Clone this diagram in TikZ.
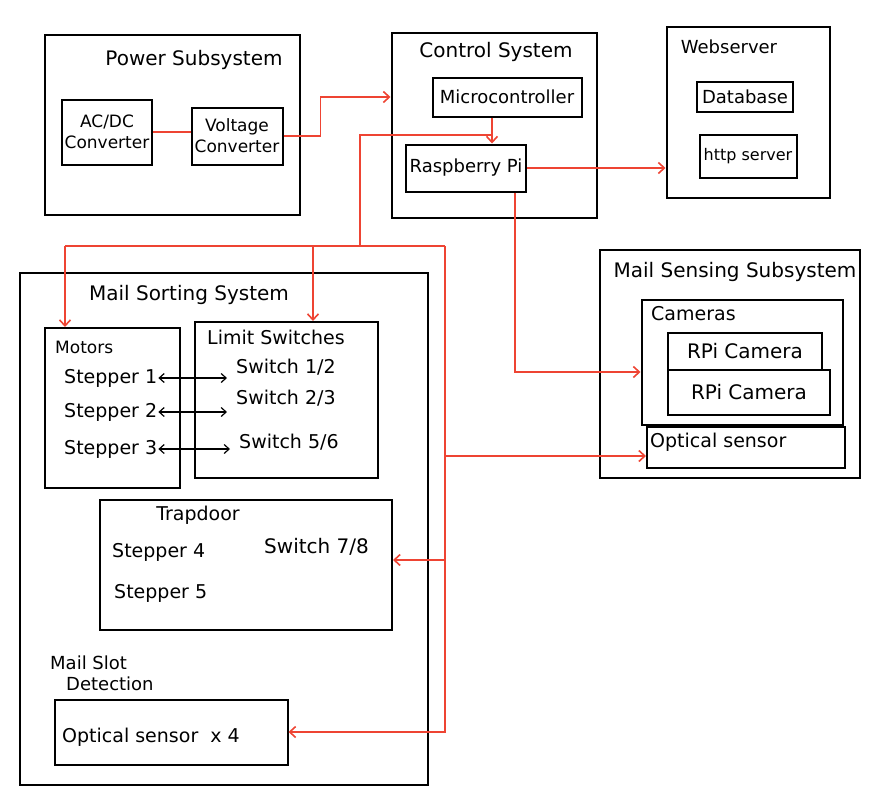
\documentclass[tikz,border=0pt]{standalone}
\usepackage{fontspec}
\setmainfont{DejaVu Sans}
\usetikzlibrary{arrows.meta}
\definecolor{wirered}{HTML}{EE4433}

\begin{document}
\begin{tikzpicture}[x=1pt, y=-1pt,
    box/.style={draw, line width=2pt, inner sep=0pt},
    txt/.style={font=\fontsize{19}{22}\selectfont, inner sep=1pt},
    small/.style={font=\fontsize{17}{21}\selectfont},
    titletext/.style={font=\fontsize{20}{22}\selectfont},
    wire/.style={draw=wirered, line width=1.6pt},
    toarrow/.style={-{Straight Barb[length=6pt, width=11pt]}},
    bothways/.style={{Straight Barb[length=5pt, width=9pt]}-{Straight Barb[length=5pt, width=9pt]}, line width=1.2pt, shorten >=8pt}]
    \useasboundingbox (0,0) rectangle (886,806);

    % power subsystem
    \node[box, minimum width=255, minimum height=180] (power) at (172,125) {};
    \node[titletext] (powertitle) at (194,60) {Power Subsystem};
    \node[box, minimum width=90, minimum height=65, txt, small, align=center] (acdc) at (107,132) {AC/DC\\Converter};
    \node[box, minimum width=91, minimum height=57, txt, small, align=center] (volt) at (237,136) {Voltage\\Converter};

    % control system
    \node[box, minimum width=205, minimum height=185] (ctrl) at (494,125) {};
    \node[titletext] (ctrltitle) at (496,52) {Control System};
    \node[box, minimum width=149, minimum height=39, txt, font=\fontsize{18}{21}\selectfont] (micro) at (507,97) {Microcontroller};
    \node[box, minimum width=120, minimum height=47, txt, font=\fontsize{18}{21}\selectfont] (rpi) at (466,168) {Raspberry Pi};

    % webserver
    \node[box, minimum width=163, minimum height=171] (web) at (748,112) {};
    \node[titletext, font=\fontsize{18}{21}\selectfont] (webtitle) at (729,47) {Webserver};
    \node[box, minimum width=96, minimum height=30, txt, font=\fontsize{18}{21}\selectfont] (db) at (745,97) {Database};
    \node[box, minimum width=97, minimum height=43, txt, font=\fontsize{16}{20}\selectfont] (http) at (748,156) {http server};

    % mail sensing
    \node[box, minimum width=260, minimum height=228] (sense) at (730,364) {};
    \node[titletext] (sensetitle) at (735,272) {Mail Sensing Subsystem};
    \node[box, minimum width=201, minimum height=125] (cams) at (742,362) {};
    \node[txt, anchor=west] (camtitle) at (650,314) {Cameras};
    \node[box, minimum width=154, minimum height=37, txt, font=\fontsize{20}{22}\selectfont] (cam1) at (745,351) {RPi Camera};
    \node[box, minimum width=162, minimum height=45, txt, font=\fontsize{20}{22}\selectfont] (cam2) at (749,392) {RPi Camera};
    \node[box, minimum width=198, minimum height=41] (optic) at (746,447) {};
    \node[txt, anchor=west] (opticlbl) at (649,442) {Optical sensor};

    % mail sorting
    \node[box, minimum width=408, minimum height=512] (sort) at (224,529) {};
    \node[titletext] (sorttitle) at (189,295) {Mail Sorting System};
    \node[box, minimum width=135, minimum height=160] (motors) at (112,408) {};
    \node[txt, small, anchor=west] (motorstitle) at (54,347) {Motors};
    \node[txt, anchor=west] (s1) at (63,378) {Stepper 1};
    \node[txt, anchor=west] (s2) at (63,412) {Stepper 2};
    \node[txt, anchor=west] (s3) at (63,449) {Stepper 3};
    \node[box, minimum width=183, minimum height=156] (limits) at (286,400) {};
    \node[txt, anchor=west] (limitstitle) at (206,337) {Limit Switches};
    \node[txt, anchor=west] (w1) at (235,367) {Switch 1/2};
    \node[txt, anchor=west] (w2) at (235,398) {Switch 2/3};
    \node[txt, anchor=west] (w3) at (238,442) {Switch 5/6};
    \draw[bothways] (s1.east) -- (s1.east -| w1.west);
    \draw[bothways] (s2.east) -- (s2.east -| w2.west);
    \draw[bothways] (s3.east) -- (s3.east -| w3.west);

    \node[box, minimum width=292, minimum height=130] (trap) at (246,565) {};
    \node[txt] (traptitle) at (198,515) {Trapdoor};
    \node[txt, anchor=west] (s4) at (111,552) {Stepper 4};
    \node[txt, anchor=west, font=\fontsize{20}{22}\selectfont] (w4) at (263,547) {Switch 7/8};
    \node[txt, anchor=west] (s5) at (113,593) {Stepper 5};

    \node[txt, anchor=west, align=left, font=\fontsize{18}{21}\selectfont] (slottitle) at (49,673) {Mail Slot\\\hspace*{16pt}Detection};
    \node[box, minimum width=233, minimum height=65] (slot) at (171,732) {};
    \node[txt, anchor=west] (slotlbl) at (61,737) {Optical sensor \ x 4};

    % red connections
    \coordinate (tap) at (492,135);
    \coordinate (drop) at (360,246);
    \coordinate (busL) at (65,246);
    \coordinate (busR) at (445,246);
    \coordinate (lsdrop) at (313,246);
    \coordinate (pidown) at (515,372);
    \coordinate (optin) at ([yshift=-9pt]optic.west);
    \coordinate (trapin) at ([yshift=5pt]trap.east);

    \draw[wire] (acdc.east) -- (acdc.east -| volt.west);
    \draw[wire, toarrow] (volt.east) -- ++(37,0) |- (ctrl.west |- micro.west);
    \draw[wire, toarrow] (micro.south -| tap) -- (rpi.north -| tap);
    \draw[wire] (tap) -| (drop);
    \draw[wire] (busL) -- (busR);
    \draw[wire, toarrow] (busL) -- (busL |- motors.north);
    \draw[wire, toarrow] (lsdrop) -- (lsdrop |- limits.north);
    \draw[wire, toarrow] (busR) |- (slot.east);
    \draw[wire, toarrow] (busR |- trapin) -- (trapin);
    \draw[wire, toarrow] (busR |- optin) -- (optin);
    \draw[wire, toarrow] (rpi.east) -- (rpi.east -| web.west);
    \draw[wire, toarrow] (rpi.south -| pidown) |- (cams.west |- pidown);
\end{tikzpicture}
\end{document}
